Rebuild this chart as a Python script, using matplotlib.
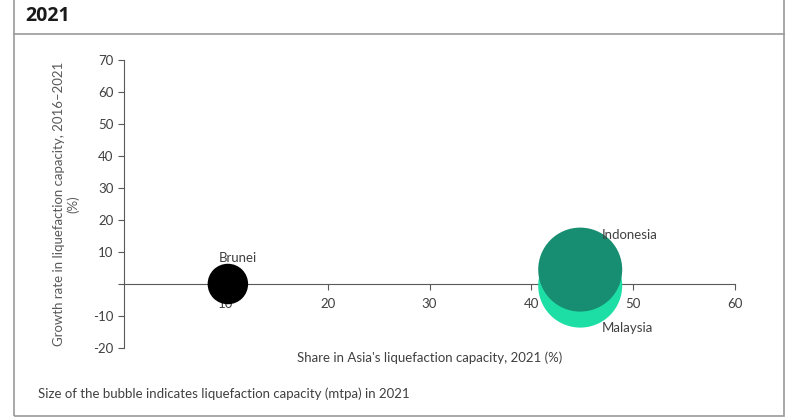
import matplotlib.pyplot as plt
from matplotlib.patches import Rectangle
from matplotlib.lines import Line2D

# data
countries = ["Malaysia", "Indonesia", "Brunei"]
share = [44.8, 44.8, 10.2]          # share in Asia's liquefaction capacity, 2021 (%)
growth = [-0.5, 4.5, 0.0]           # growth rate 2016-2021 (%)
capacity = [31.0, 31.0, 7.2]        # liquefaction capacity (mtpa)
colors = ["#1ddfa6", "#178e71", "#000000"]
label_xy = [(46.9, -13.8), (46.9, 15.3), (11.2, 8.1)]
label_ha = ["left", "left", "center"]

plt.rcParams['font.family'] = ['Lato', 'DejaVu Sans']
grey = "#404040"

fig = plt.figure(figsize=(8, 4.18), dpi=100)

# frame around the chart, with the title row on top
fig.patches.append(Rectangle((14 / 800, 1 - 416 / 418), 770 / 800, 420 / 418,
                             transform=fig.transFigure, fill=False,
                             edgecolor="#999999", linewidth=1.2))
fig.lines.append(Line2D([14 / 800, 784 / 800], [1 - 34 / 418, 1 - 34 / 418],
                        transform=fig.transFigure, color="#999999", linewidth=1.2))
fig.text(25 / 800, 1 - 16 / 418, "2021", fontsize=14, fontweight="bold",
         family=["Open Sans", "DejaVu Sans"], va="center", ha="left", color="#1a1a1a")

ax = fig.add_axes([124 / 800, 1 - 348 / 418, 611 / 800, 288 / 418])

ax.scatter(share, growth, s=[c * 118 for c in capacity], c=colors,
           edgecolors="none", zorder=3, clip_on=False)
for name, (lx, ly), ha in zip(countries, label_xy, label_ha):
    ax.text(lx, ly, name, fontsize=9.5, color=grey, ha=ha, va="center", zorder=4)

ax.set_xlim(0, 60)
ax.set_ylim(-20, 70)
ax.set_xticks(range(10, 61, 10))
ax.set_yticks(range(-20, 71, 10))
ax.set_yticklabels(["-20", "-10", "", "10", "20", "30", "40", "50", "60", "70"])

for s in ["top", "right"]:
    ax.spines[s].set_visible(False)
ax.spines["bottom"].set_position(("data", 0))
ax.spines["bottom"].set_color("#595959")
ax.spines["left"].set_color("#595959")
ax.tick_params(colors="#595959", labelcolor=grey, labelsize=9.5, length=4, width=0.8)
ax.tick_params(axis="x", pad=6)
ax.patch.set_alpha(0)

ax.set_ylabel("Growth rate in liquefaction capacity, 2016\u20132021\n(%)",
              fontsize=9.5, color="#595959", labelpad=10)

fig.text(430 / 800, 1 - 358 / 418, "Share in Asia's liquefaction capacity, 2021 (%)",
         fontsize=9.5, color=grey, ha="center", va="center")
fig.text(38 / 800, 1 - 394 / 418, "Size of the bubble indicates liquefaction capacity (mtpa) in 2021",
         fontsize=9.5, color=grey, ha="left", va="center")

plt.savefig("out.png", dpi=100)
